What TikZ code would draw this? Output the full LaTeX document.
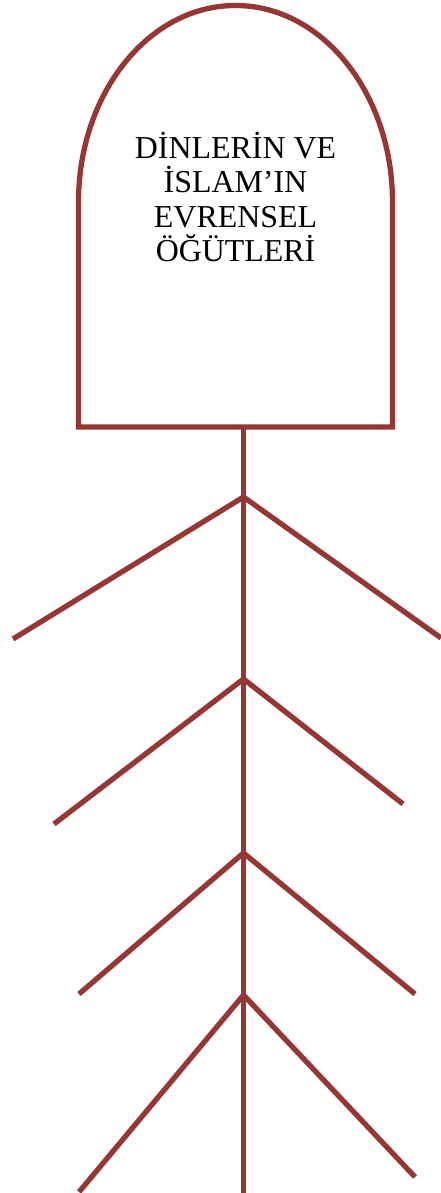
\documentclass[tikz,border=0pt]{standalone}
\usepackage{fontspec}
\setmainfont{Liberation Serif}
\definecolor{fishred}{RGB}{149,55,53}
\begin{document}
\begin{tikzpicture}[x=1pt,y=1pt,
  bone/.style={draw=fishred,line width=5.3pt},
  headtext/.style={align=center,font=\fontsize{31.9}{34.5}\selectfont,inner sep=0pt}]
\useasboundingbox (0,0) rectangle (440,1193);
% head
\draw[bone,line join=miter] (78.5,766) -- (78.5,991)
  arc[start angle=180,end angle=0,x radius=157,y radius=196.5]
  -- (392.5,766) -- cycle;
\node[headtext,anchor=base] (title) at (235.5,931) {DİNLERİN VE\\İSLAM’IN\\EVRENSEL\\ÖĞÜTLERİ};
% spine
\coordinate (top) at (243.5,766);
\coordinate (bottom) at (243.5,-2);
\coordinate (j1) at (243.5,696);
\coordinate (j2) at (243.5,514);
\coordinate (j3) at (243.5,340);
\coordinate (j4) at (243.5,198);
\coordinate (b1L) at (13,554);
\coordinate (b1R) at (441,555);
\coordinate (b2L) at (54,369);
\coordinate (b2R) at (403,389);
\coordinate (b3L) at (79,199);
\coordinate (b3R) at (415,199);
\coordinate (b4L) at (79,1);
\coordinate (b4R) at (415,16);
\draw[bone] (top) -- (bottom);
\draw[bone] (b1L) -- (j1) -- (b1R);
\draw[bone] (b2L) -- (j2) -- (b2R);
\draw[bone] (b3L) -- (j3) -- (b3R);
\draw[bone] (b4L) -- (j4) -- (b4R);
\end{tikzpicture}
\end{document}
